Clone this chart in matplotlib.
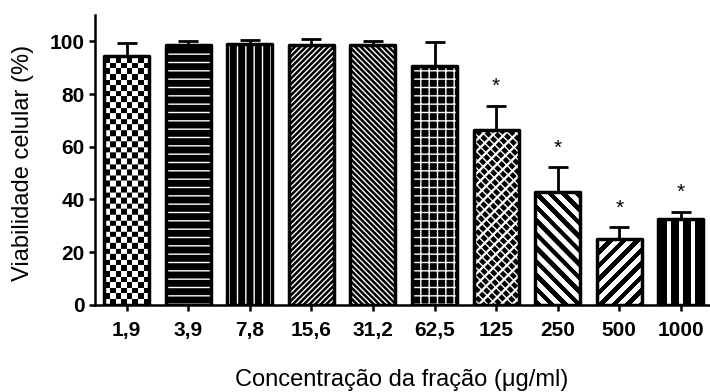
import matplotlib
matplotlib.use("Agg")
import matplotlib.pyplot as plt
import numpy as np

plt.rcParams['font.family'] = ['Liberation Sans', 'DejaVu Sans']

# cell viability for each fraction concentration (mean, upper SD)
concentrations = ["1,9", "3,9", "7,8", "15,6", "31,2", "62,5", "125", "250", "500", "1000"]
viability = [94.5, 98.5, 99.0, 98.5, 98.5, 90.5, 66.5, 43.0, 25.0, 32.5]
sd = [5.0, 1.5, 1.4, 2.5, 1.5, 9.3, 9.0, 9.2, 4.4, 2.8]
significant = [False, False, False, False, False, False, True, True, True, True]

BS = "\\"
# fill style per bar: (face, hatch, hatch colour, hatch width, overlay hatch)
styles = [
    ("checker", None, None, 0, None),
    ("black", "--", "white", 1.0, None),
    ("black", "||", "white", 1.0, None),
    ("black", "/" * 6, "white", 1.0, None),
    ("black", BS * 6, "white", 1.0, None),
    ("black", "++", "white", 1.0, None),
    ("white", "///", "black", 4.0, BS * 4),
    ("diag_back", None, None, 0, None),
    ("diag_fwd", None, None, 0, None),
    ("vstripes", None, None, 0, None),
]
TEXTURES = ("checker", "diag_back", "diag_fwd", "vstripes")

fig = plt.figure(figsize=(7.1, 3.92), dpi=100)
ax = fig.add_axes([0.134, 0.222, 0.864, 0.74])

x = np.arange(len(concentrations))
width = 0.73

ax.set_xlim(-0.51, 9.45)
ax.set_ylim(0, 110)


def texture(bar, kind):
    """fill a bar with a pixel texture clipped to its outline"""
    x0, y0 = bar.get_x(), bar.get_y()
    x1, y1 = x0 + bar.get_width(), y0 + bar.get_height()
    p0 = ax.transData.transform((x0, y0))
    p1 = ax.transData.transform((x1, y1))
    w = int(round(p1[0] - p0[0]))
    h = int(round(p1[1] - p0[1]))
    yy, xx = np.mgrid[0:h, 0:w]
    if kind == "checker":
        img = ((xx // 5.6).astype(int) + (yy // 5.6).astype(int)) % 2
    elif kind == "diag_back":
        img = ((xx + yy) % 13.5 < 6.5).astype(int)
    elif kind == "diag_fwd":
        img = ((xx - yy) % 13.5 < 6.5).astype(int)
    else:
        img = ((xx - 9) % 11.7 >= 4).astype(int)
    im = ax.imshow(img, cmap="gray_r", extent=(x0, x1, y0, y1), origin="lower",
                   interpolation="antialiased", aspect="auto", zorder=2)
    im.set_clip_path(bar)


for i in range(len(x)):
    face, hatch, hcol, hlw, over = styles[i]
    if face in TEXTURES:
        b = ax.bar(x[i], viability[i], width, color="none", edgecolor="none", zorder=1)[0]
        texture(b, face)
    else:
        with plt.rc_context({"hatch.linewidth": hlw}):
            ax.bar(x[i], viability[i], width, color=face, edgecolor=hcol,
                   hatch=hatch, linewidth=0, zorder=2)
        if over:
            with plt.rc_context({"hatch.linewidth": 1.0}):
                ax.bar(x[i], viability[i], width, color="none", edgecolor=face,
                       hatch=over, linewidth=0, zorder=2)
    # outline drawn on top
    outline = ax.bar(x[i], viability[i], width, color="none", edgecolor="black",
                     linewidth=2.5, zorder=3)[0]
    outline.set_joinstyle("round")

ax.errorbar(x, viability, yerr=[np.zeros(len(sd)), sd], fmt="none", ecolor="black",
            elinewidth=2, capsize=7, capthick=2, zorder=1)

for i in range(len(x)):
    if significant[i]:
        ax.annotate("*", (x[i], viability[i] + sd[i]), xytext=(0, 7),
                    textcoords="offset points", ha="center", va="bottom",
                    fontsize=15)

ax.spines["top"].set_visible(False)
ax.spines["right"].set_visible(False)
ax.spines["left"].set_linewidth(1.8)
ax.spines["bottom"].set_linewidth(1.8)

ax.set_xticks(x)
ax.set_xticklabels(concentrations, fontweight="bold", fontsize=15)
ax.set_yticks([0, 20, 40, 60, 80, 100])
ax.set_yticklabels(["0", "20", "40", "60", "80", "100"], fontweight="bold", fontsize=15)
ax.tick_params(direction="out", length=4.5, width=1.8)
ax.tick_params(axis="x", pad=7)
ax.tick_params(axis="y", pad=3)

ax.set_ylabel("Viabilidade celular (%)", fontsize=17)
ax.set_xlabel("Concentração da fração (μg/ml)", fontsize=17)
ax.xaxis.set_label_coords(0.5, -0.222)
ax.yaxis.set_label_coords(-0.099, 0.488)

fig.savefig("out.png", dpi=100)
